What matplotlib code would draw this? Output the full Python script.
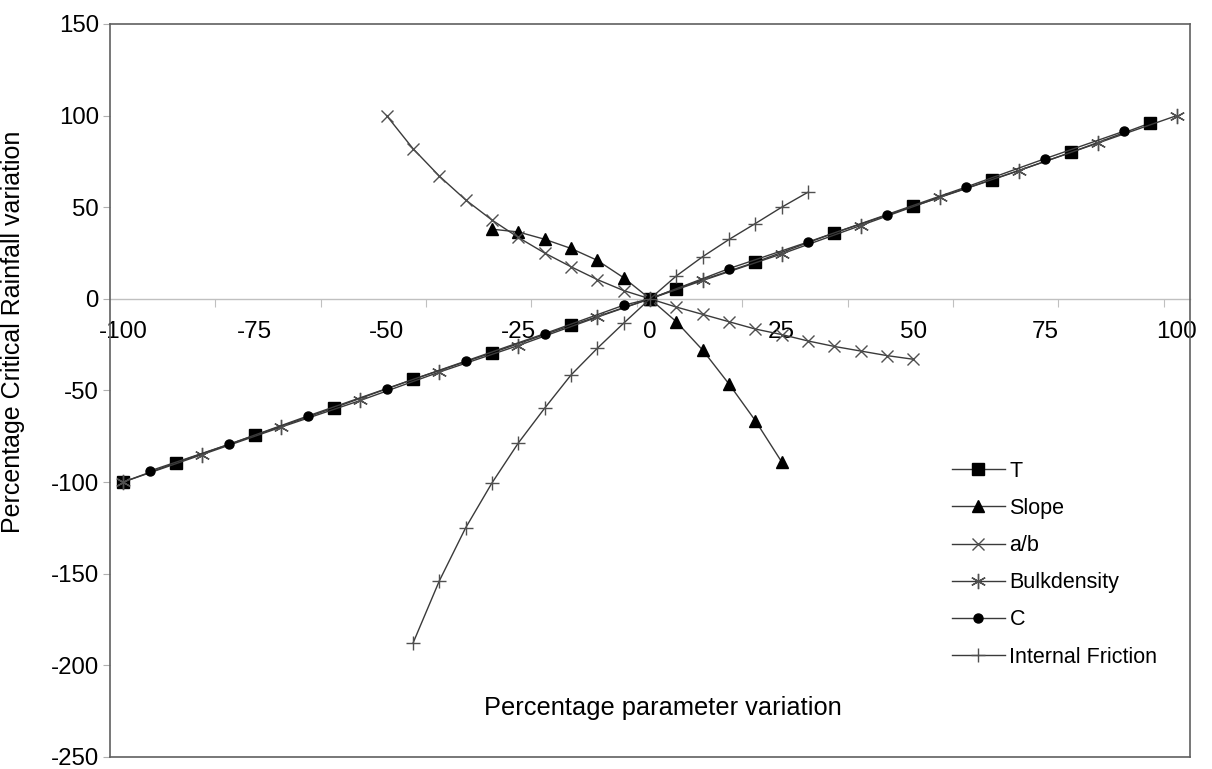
import numpy as np
import matplotlib.pyplot as plt

plt.rcParams['font.family'] = ['Liberation Sans', 'DejaVu Sans']
plt.rcParams['axes.unicode_minus'] = False

# percentage variation of each parameter and resulting rainfall change
t_x = [-100, -90, -75, -60, -45, -30, -15, 0, 5, 20, 35, 50, 65, 80, 95]
t_y = [-100, -89.5, -74.5, -59.5, -44, -29.5, -14.5, 0, 5.5, 20, 36, 50.5, 65, 80, 96]

slope_x = [-30, -25, -20, -15, -10, -5, 0, 5, 10, 15, 20, 25]
slope_y = [38, 36.5, 32.5, 27.5, 21, 11.5, 0, -12.5, -28, -46.5, -66.5, -89]

ab_x = [-50, -45, -40, -35, -30, -25, -20, -15, -10, -5, 0,
        5, 10, 15, 20, 25, 30, 35, 40, 45, 50]
ab_y = [100, 82, 67, 54, 43, 33.5, 25, 17.5, 10.5, 4.5, 0,
        -4.5, -8.5, -12.5, -16.5, -19.5, -23, -26, -28.5, -31, -33]

bulk_x = [-100, -85, -70, -55, -40, -25, -10, 0, 10, 25, 40, 55, 70, 85, 100]
bulk_y = [-100, -85, -70, -55.5, -40, -25.5, -10, 0, 10, 24.5, 40, 55.5, 70, 85, 100]

c_x = [-95, -80, -65, -50, -35, -20, -5, 0, 15, 30, 45, 60, 75, 90]
c_y = [-94, -79.5, -64, -49, -34, -19, -3.5, 0, 16.5, 31, 46, 61, 76.5, 91.5]

fric_x = [-45, -40, -35, -30, -25, -20, -15, -10, -5, 0, 5, 10, 15, 20, 25, 30]
fric_y = [-188, -154, -125, -100.5, -78.7, -59.7, -41.6, -27, -13.3, 0,
          12.5, 23, 32.4, 41.1, 50, 58.2]

x_labels = [-100, -75, -50, -25, 0, 25, 50, 75, 100]

fig = plt.figure(figsize=(12.12, 7.69), dpi=100)
ax = fig.add_axes([0.0908, 0.0158, 0.891, 0.953])

lc = '#3a3a3a'
ax.plot(t_x, t_y, color=lc, lw=1, marker='s', ms=8, mfc='black', mec='black', label='T')
ax.plot(slope_x, slope_y, color=lc, lw=1, marker='^', ms=9, mfc='black', mec='black', label='Slope')
ax.plot(ab_x, ab_y, color=lc, lw=1, marker='x', ms=9, mec='#505050', mew=1, label='a/b')
ax.plot(bulk_x, bulk_y, color=lc, lw=1, marker=(6, 2, 0), ms=11, mec='#505050', mew=1,
        label='Bulkdensity')
ax.plot(c_x, c_y, color=lc, lw=1, marker='o', ms=6.5, mfc='black', mec='black',
        label='C')
ax.plot(fric_x, fric_y, color=lc, lw=1, marker='+', ms=10, mec='#505050', mew=1,
        label='Internal Friction')

ax.set_xlim(-102.5, 102.5)
ax.set_ylim(-250, 150)
ax.set_yticks(np.arange(-250, 151, 50))
ax.tick_params(axis='y', length=5, color='#b0b0b0', labelsize=17.3, pad=3)
ax.tick_params(axis='x', bottom=False, labelbottom=False)
for s in ax.spines.values():
    s.set_color('#606060')
    s.set_linewidth(1.2)

# horizontal axis crossing at y = 0
zero = ax.secondary_xaxis(250 / 400)
zero.set_alignment('bottom')
zero.spines['bottom'].set_color('#c0c0c0')
zero.spines['bottom'].set_linewidth(1)
zero.set_xticks(np.arange(-82.5, 100, 20))
zero.set_xticks(x_labels, minor=True)
zero.set_xticklabels([str(v) for v in x_labels], minor=True)
zero.tick_params(which='major', length=6, color='#c0c0c0', labelbottom=False)
zero.tick_params(which='minor', length=0, labelsize=17.5, pad=16)

ax.set_ylabel('Percentage Critical Rainfall variation', fontsize=18)
ax.yaxis.set_label_coords(-0.079, 0.58)
ax.text(0.512, 0.067, 'Percentage parameter variation', transform=ax.transAxes,
        ha='center', va='center', fontsize=18.3)

ax.legend(loc='upper left', bbox_to_anchor=(0.7796, 0.404), frameon=False,
          fontsize=15.5, handlelength=2.45, handletextpad=0.22, labelspacing=0.75,
          borderpad=0, borderaxespad=0)

fig.savefig('out.png', dpi=100)
